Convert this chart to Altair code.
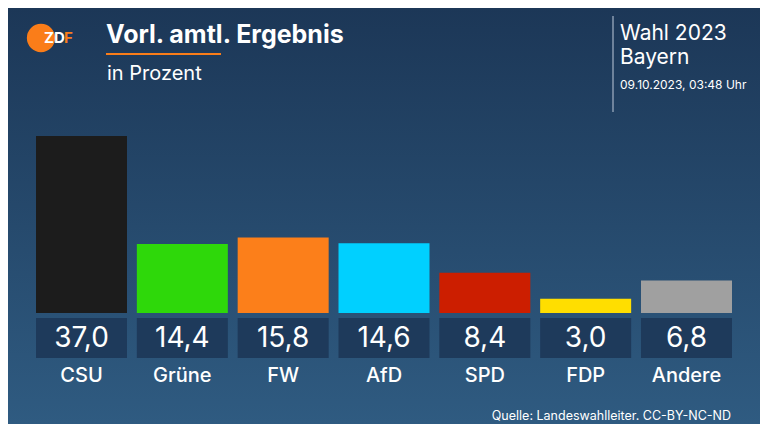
import altair as alt
import pandas as pd

parties = ["CSU", "Grüne", "FW", "AfD", "SPD", "FDP", "Andere"]
values = [37.0, 14.4, 15.8, 14.6, 8.4, 3.0, 6.8]
colors = ["#1c1c1c", "#2ed80a", "#fc7f1a", "#00d0ff", "#cc1e00", "#ffde00", "#a0a0a0"]

title = "Vorl. amtl. Ergebnis"
subtitle = "in Prozent"
right_lines = ["Wahl 2023", "Bayern"]
date_text = "09.10.2023, 03:48 Uhr"
source_text = "Quelle: Landeswahlleiter. CC-BY-NC-ND"

W, H = 752, 416
OX, OY = 8, 8  # page margin offset

df = pd.DataFrame({"party": parties, "value": values})
one = pd.DataFrame({"k": [0]})

FONT = "Inter"

xenc = alt.X("party:N", sort=parties,
             scale=alt.Scale(domain=parties, range=[36 - OX, 732 - OX],
                             paddingInner=0.0975, paddingOuter=0),
             axis=None)
yscale = alt.Scale(domain=[0, 37], range=[313 - OY, 136 - OY])

bg = alt.Chart(one).mark_rect(
    color=alt.Gradient(gradient="linear",
                       stops=[alt.GradientStop(color="#1c3757", offset=0),
                              alt.GradientStop(color="#2f5b81", offset=1)],
                       x1=0, x2=0, y1=0, y2=1)
).encode(x=alt.value(0), x2=alt.value(W), y=alt.value(0), y2=alt.value(H))

bars = alt.Chart(df).mark_bar().encode(
    x=xenc,
    y=alt.Y("value:Q", scale=yscale, axis=None),
    color=alt.Color("party:N", scale=alt.Scale(domain=parties, range=colors), legend=None),
)

boxes = alt.Chart(df).mark_rect(color="#1e3a5b").encode(
    x=xenc, y=alt.value(318 - OY), y2=alt.value(358 - OY)
)

vals = alt.Chart(df).transform_calculate(
    label="replace(format(datum.value, '.1f'), '.', ',')"
).mark_text(font=FONT, fontSize=28, color="white", baseline="alphabetic", align="center").encode(
    x=xenc, y=alt.value(347 - OY), text="label:N"
)

names = alt.Chart(df).mark_text(font=FONT, fontSize=20, fontWeight=500, color="white",
                                baseline="alphabetic", align="center").encode(
    x=xenc, y=alt.value(382 - OY), text="party:N"
)

def txt(s, x, y, size, weight="normal", color="white", align="left"):
    return alt.Chart(one).mark_text(text=s, font=FONT, fontSize=size, fontWeight=weight,
                                    color=color, align=align, baseline="alphabetic").encode(
        x=alt.value(x - OX), y=alt.value(y - OY))

def rule(x1, y1, x2, y2, color, width):
    return alt.Chart(one).mark_rule(color=color, strokeWidth=width).encode(
        x=alt.value(x1 - OX), x2=alt.value(x2 - OX), y=alt.value(y1 - OY), y2=alt.value(y2 - OY))

logo_circle = alt.Chart(one).mark_circle(color="#fa7d19", opacity=1, size=800).encode(
    x=alt.value(41 - OX), y=alt.value(38 - OY))

layers = [
    bg, bars, boxes, vals, names,
    logo_circle,
    txt("ZD", 44, 43, 15, "bold", "white"),
    txt("F", 64, 43, 15, "bold", "#fa7d19"),
    txt(title, 106, 43, 25, "bold"),
    rule(106, 54, 221, 54, "#fa7d19", 2),
    txt(subtitle, 107, 80, 20),
    rule(613, 16, 613, 112, "#8a9bb0", 1.5),
    txt(right_lines[0], 620, 40, 21),
    txt(right_lines[1], 620, 64, 21),
    txt(date_text, 620, 89, 12),
    txt(source_text, 731, 420, 12.5, align="right"),
]

chart = alt.layer(*layers).properties(
    width=W, height=H, padding=0, autosize=alt.AutoSizeParams(type="none"),
    background="#1c3757"
).configure_view(stroke=None)

chart.save("out.html", embed_options={"renderer": "svg", "actions": False})
